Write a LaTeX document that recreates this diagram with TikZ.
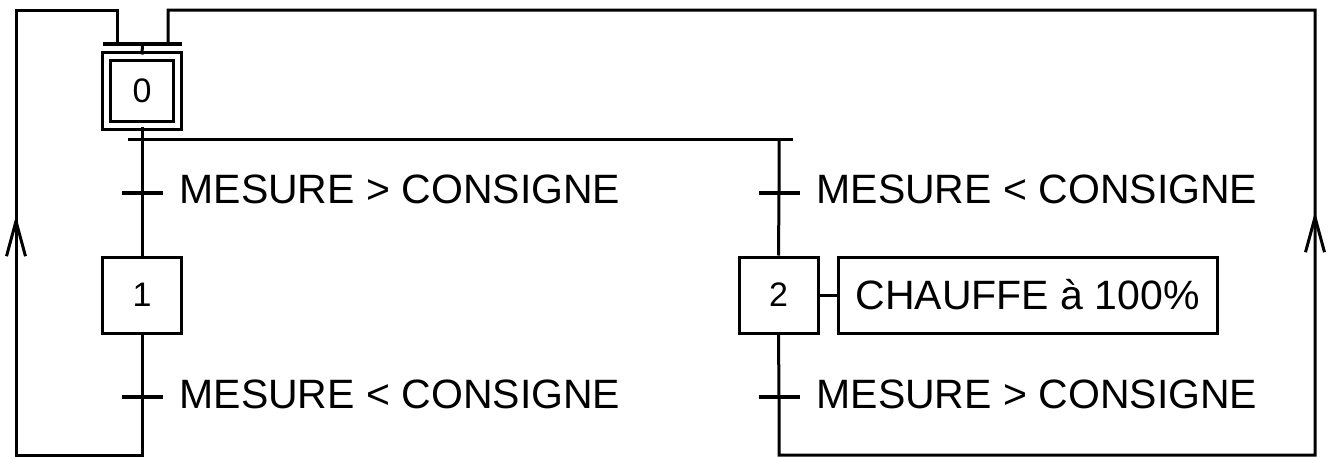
\documentclass[tikz,border=0pt]{standalone}
\usepackage{fontspec}
\setmainfont{Liberation Sans}
\usetikzlibrary{arrows.meta,decorations.markings}

\begin{document}
\begin{tikzpicture}[x=1pt,y=-1pt,line width=3pt,line join=miter,
  stepbox/.style={draw,rectangle,minimum width=79pt,minimum height=76pt,inner sep=0pt,
    font=\fontsize{34}{40}\selectfont},
  initbox/.style={stepbox,double,double distance=5pt,minimum width=71pt,minimum height=69pt},
  actionbox/.style={draw,rectangle,minimum width=379pt,minimum height=76pt,inner sep=0pt,
    font=\fontsize{41}{48}\selectfont},
  bar/.style={fill=black,rectangle,inner sep=0pt,minimum width=41pt,minimum height=4pt},
  syncbar/.style={bar,minimum width=79pt},
  cond/.style={anchor=base west,inner sep=0pt,font=\fontsize{41}{48}\selectfont},
  loopback/.style={postaction={decorate},decoration={markings,
    mark=at position #1 with {\arrow{Straight Barb[length=35pt,width=19pt,line width=3pt]}}}}
]
\useasboundingbox (0,0) rectangle (1328,458);

% steps
\node[initbox] (s0) at (142,90.5) {0};
\node[stepbox] (s1) at (142,295) {1};
\node[stepbox] (s2) at (778.5,295) {2};
\node[actionbox] (a2) at (1027.5,295) {CHAUFFE à 100\%};

% synchronisation bar above the initial step
\node[syncbar] (sync) at (142.5,44) {};

% transitions
\node[bar] (t1) at (142,193) {};
\node[bar] (t2) at (779,193) {};
\node[bar] (t3) at (142,397) {};
\node[bar] (t4) at (779,397) {};

% receptivities
\node[cond] (c1) at (178,203) {MESURE > CONSIGNE};
\node[cond] (c2) at (815,203) {MESURE < CONSIGNE};
\node[cond] (c3) at (178,408) {MESURE < CONSIGNE};
\node[cond] (c4) at (815,408) {MESURE > CONSIGNE};

% branching points
\coordinate (div) at (142,139);
\coordinate (divR) at (779,139);

% selection divergence
\draw (128,139) -- (793,139);
\draw (s0.south) -- (div) -- (t1.center) -- (s1.north);
\draw (divR) -- (t2.center) -- (s2.north);
\draw (s2.east) -- (a2.west);
\draw (sync.center) -- (s0.north);

% return paths to the initial step
\draw[loopback=486pt] (s1.south) -- (t3.center) -- (142,455) -- (16,455) -- (16,10)
  -- (117,10) -- (sync.center -| 117,0);
\draw[loopback=900pt] (s2.south) -- (t4.center) -- (779,455) -- (1315,455) -- (1315,10)
  -- (168,10) -- (sync.center -| 168,0);
\end{tikzpicture}
\end{document}
